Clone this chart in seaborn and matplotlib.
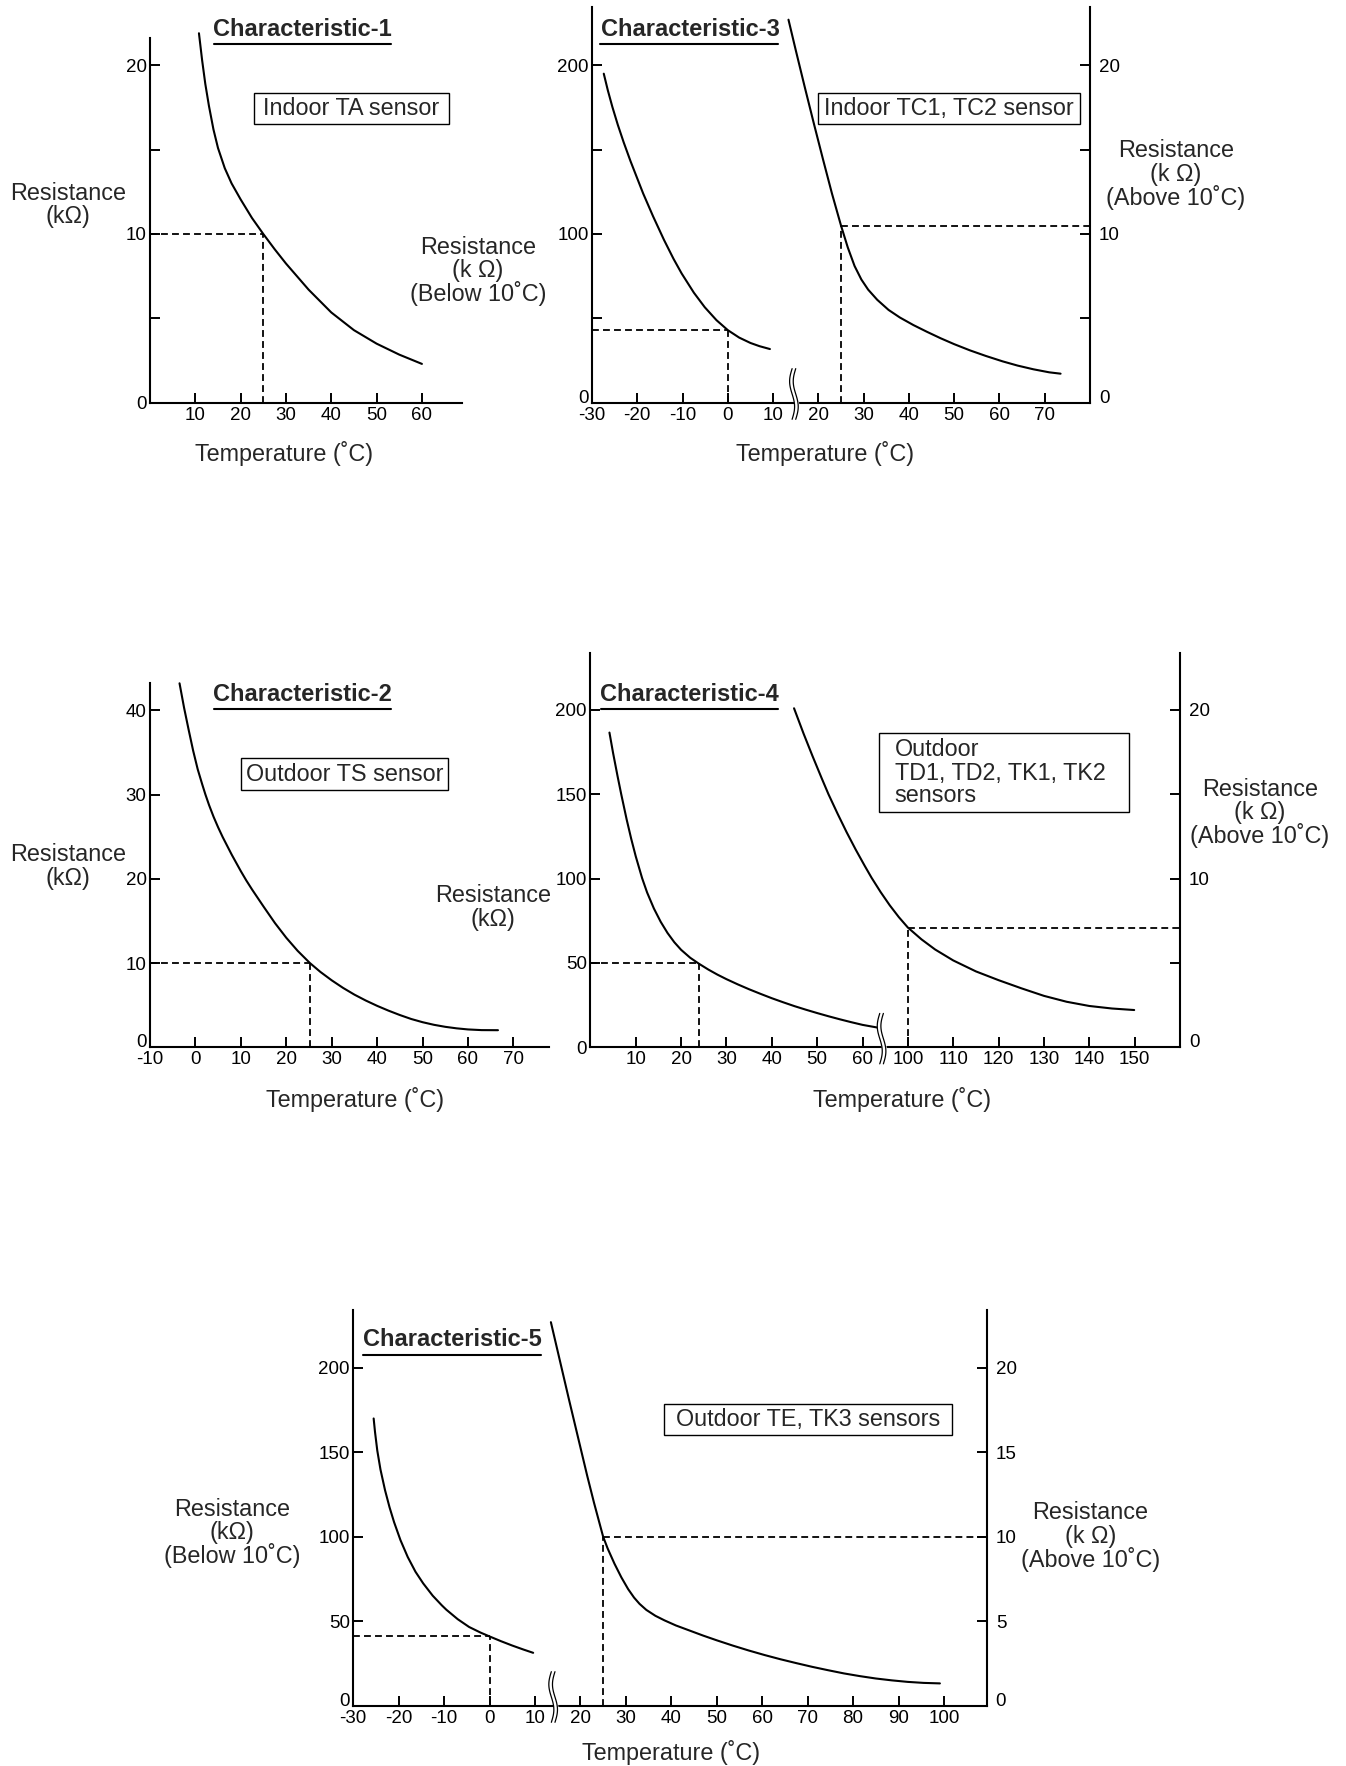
import numpy as np
import matplotlib
matplotlib.use("Agg")
import matplotlib.pyplot as plt
from matplotlib.lines import Line2D
from matplotlib.patches import Rectangle
import seaborn as sns

sns.set_style("ticks")
plt.rcParams["font.family"] = ["Liberation Sans", "DejaVu Sans"]

W, H = 1346, 1766

# ----------- DATA (degC / kOhm) -----------

# Characteristic-1 : Indoor TA sensor
c1_temp = [10.8, 11.5, 12.2, 13.0, 14.0, 15.0, 16.5, 18.0, 20.0, 22.5, 25.0, 27.5, 30.0,
           35.0, 40.0, 45.0, 50.0, 55.0, 60.0]
c1_res = [21.9, 20.3, 18.9, 17.6, 16.2, 15.1, 13.9, 13.0, 12.05, 10.95, 10.0, 9.1, 8.25,
          6.7, 5.35, 4.3, 3.5, 2.85, 2.3]
c1_ref = (25, 10)

# Characteristic-2 : Outdoor TS sensor
c2_temp = [-3.5, -2.5, -1.5, -0.5, 0.5, 1.5, 2.2, 3, 4, 5, 6, 8, 10, 11.2, 12.5, 15, 17.5,
           20, 22.5, 25.2, 27.5, 30, 32.5, 35, 37.5, 40, 42.5, 45, 47.5, 50, 52.5, 55,
           57.5, 60, 63, 66.6]
c2_res = [43.2, 40.3, 37.7, 35.2, 33.0, 31.2, 30.0, 28.75, 27.35, 26.1, 24.95, 22.85, 20.9,
          19.8, 18.7, 16.7, 14.75, 13.0, 11.45, 10.0, 8.95, 7.95, 7.05, 6.25, 5.55, 4.92,
          4.35, 3.83, 3.36, 2.98, 2.67, 2.43, 2.25, 2.12, 2.04, 2.03]
c2_ref = (25.2, 10)

# Characteristic-3 : Indoor TC1, TC2 sensor (low range -> left axis, high range -> right axis)
c3_low_temp = [-27.4, -26.5, -25.5, -24.3, -23, -21.5, -20, -18.7, -16.5, -14.1, -12, -10.2,
               -7.5, -5.1, -2.5, 0, 2.5, 5, 7, 9.3]
c3_low_res = [195, 185.1, 175.3, 164.7, 154.3, 143.2, 132.9, 124, 110.4, 96.5, 85.3, 76.6,
              65.2, 56.6, 48.9, 43.0, 38.6, 35.4, 33.5, 31.8]
c3_high_temp = [13.4, 15, 17, 19, 21, 23, 25, 26.5, 28, 29.5, 31, 33, 35.5, 38, 41, 44, 47,
                50, 53.5, 57, 60.7, 64, 67.5, 71, 73.5]
c3_high_res = [22.7, 20.9, 18.7, 16.55, 14.45, 12.4, 10.5, 9.2, 8.1, 7.3, 6.7, 6.1, 5.5,
               5.05, 4.6, 4.2, 3.82, 3.47, 3.1, 2.77, 2.45, 2.2, 1.98, 1.8, 1.72]
c3_ref_low = (0, 43)
c3_ref_high = (25, 10.5)

# Characteristic-4 : Outdoor TD1, TD2, TK1, TK2 sensors
c4_low_temp = [4.2, 5, 6, 6.8, 8, 9, 10, 11.4, 12.5, 14, 15.5, 17, 18.5, 20, 22, 23.9, 26,
               28, 30, 32.5, 35, 37.5, 40, 42.5, 45, 47.5, 50, 52.5, 55, 57.5, 60, 63.3]
c4_low_res = [186.6, 174.5, 160.6, 150, 135, 123.6, 113.2, 100.3, 91.8, 82.3, 74.4, 67.8,
              62.3, 57.8, 53.1, 49.6, 46.1, 43.1, 40.4, 37.3, 34.4, 31.7, 29.1, 26.7, 24.4,
              22.3, 20.3, 18.4, 16.6, 14.9, 13.3, 11.7]
c4_high_temp = [74.9, 77, 79, 81, 82.5, 84.5, 86.5, 88.5, 90.5, 92, 94, 96, 98, 100, 103,
                106, 110, 115, 120, 125, 130, 135, 140, 145, 149.9]
c4_high_res = [20.1, 18.6, 17.25, 15.95, 15.0, 13.85, 12.75, 11.72, 10.75, 10.05, 9.2, 8.42,
               7.72, 7.1, 6.4, 5.8, 5.15, 4.5, 3.98, 3.5, 3.05, 2.7, 2.45, 2.3, 2.21]
c4_ref_low = (23.9, 50)
c4_ref_high = (100, 7.1)
c4_shift = 30  # axis jumps from 60 to 100

# Characteristic-5 : Outdoor TE, TK3 sensors
c5_low_temp = [-25.5, -25.2, -24.7, -24.0, -23.0, -22.0, -21.0, -19.6, -18.0, -16.3, -14.6,
               -12.5, -10.5, -9.5, -7, -4.5, -2, 0, 2.5, 5, 7.5, 9.6]
c5_low_res = [170, 162, 151, 139.8, 127.6, 117.4, 108.6, 98.0, 88.0, 79.3, 72.4, 65.1, 59.4,
              56.8, 51.2, 46.6, 43.3, 41.0, 38.2, 35.6, 33.2, 31.3]
c5_high_temp = [13.5, 15.5, 17.5, 19.5, 21.5, 23, 24.2, 25, 26, 27.5, 29, 30.5, 31.8, 33,
                34.5, 36.5, 38.5, 41, 44, 47, 50, 53.5, 57, 60.5, 64, 67.5, 71, 74.5, 78,
                81.5, 85, 88.5, 92, 95.5, 99.1]
c5_high_res = [22.7, 20.4, 18.1, 15.85, 13.6, 12.0, 10.8, 10.0, 9.3, 8.4, 7.6, 6.9, 6.4,
               6.03, 5.67, 5.32, 5.05, 4.75, 4.45, 4.15, 3.87, 3.56, 3.27, 3.0, 2.75, 2.52,
               2.3, 2.1, 1.91, 1.75, 1.61, 1.5, 1.41, 1.35, 1.32]
c5_ref_low = (0, 41)
c5_ref_high = (25, 10)

# tick labels
c1_xticks = [10, 20, 30, 40, 50, 60]
c1_yticks = [0, 5, 10, 15, 20]
c1_ylabels = ["0", "", "10", "", "20"]
c2_xticks = [-10, 0, 10, 20, 30, 40, 50, 60, 70]
c2_yticks = [0, 10, 20, 30, 40]
c3_xticks = [-30, -20, -10, 0, 10, 20, 30, 40, 50, 60, 70]
c3_yticks = [0, 50, 100, 150, 200]
c3_ylabels = ["0", "", "100", "", "200"]
right_yticks = [0, 5, 10, 15, 20]
right_ylabels = ["0", "", "10", "", "20"]
c4_xticks = [10, 20, 30, 40, 50, 60, 100, 110, 120, 130, 140, 150]
c4_yticks = [0, 50, 100, 150, 200]
c5_xticks = [-30, -20, -10, 0, 10, 20, 30, 40, 50, 60, 70, 80, 90, 100]
c5_yticks = [0, 50, 100, 150, 200]
c5_ryticks = [0, 5, 10, 15, 20]

TICK_SIZE = 13.5
LABEL_SIZE = 16.8

fig = plt.figure(figsize=(W / 100, H / 100), dpi=100)


def fx(x):
    return x / W


def fy(y):
    return 1 - y / H


def new_axes(left, top, right, bottom):
    return fig.add_axes([fx(left), fy(bottom), (right - left) / W, (bottom - top) / H])


def style_axes(ax, sides, ypad=2.5):
    for name, sp in ax.spines.items():
        sp.set_visible(name in sides)
        sp.set_linewidth(1.5)
        sp.set_color("black")
    ax.patch.set_visible(False)
    ax.tick_params(direction="in", length=7.5, width=1.4, labelsize=TICK_SIZE, colors="black")
    ax.tick_params(axis="x", pad=3)
    ax.tick_params(axis="y", pad=ypad)
    ax.set_xlabel("")
    ax.set_ylabel("")


def raise_zero(ax):
    # the "0" label sits on the axis line, above the x tick labels
    ax.get_yticklabels()[0].set_verticalalignment("baseline")


def curve(ax, t, r, shift=0):
    sns.lineplot(x=np.asarray(t, dtype=float) - shift, y=r, ax=ax, color="black",
                 linewidth=1.5, clip_on=False)


DASH = dict(color="black", lw=1.3, dashes=(3.8, 2.3))


def ref_low(ax, ref, xmin):
    x, y = ref
    ax.plot([xmin, x], [y, y], **DASH)
    ax.plot([x, x], [0, y], **DASH)


def ref_high(ax, ref, xmax, shift=0):
    x, y = ref
    x = x - shift
    ax.plot([x, xmax], [y, y], **DASH)
    ax.plot([x, x], [0, y], **DASH)


def axis_break(ax, xpos):
    t = np.linspace(0, 1, 60)
    yy = -0.042 + 0.128 * t
    wig = 0.55 * np.sin(2 * np.pi * t)
    trans = ax.get_xaxis_transform()
    xl = xpos - 0.4 + wig
    xr = xpos + 0.4 + wig
    ax.fill_betweenx(yy, xl, xr, transform=trans, color="white", zorder=4, clip_on=False)
    ax.plot(xl, yy, transform=trans, color="black", lw=0.9, zorder=5, clip_on=False)
    ax.plot(xr, yy, transform=trans, color="black", lw=0.9, zorder=5, clip_on=False)


def text(x, y, s, size=LABEL_SIZE, **kw):
    fig.text(fx(x), fy(y), s, fontsize=size, ha=kw.pop("ha", "center"), va="center", **kw)


def title(x, y, s, x0, x1, yline):
    text(x, y, s, size=17, fontweight="bold")
    fig.add_artist(Line2D([fx(x0), fx(x1)], [fy(yline), fy(yline)], transform=fig.transFigure,
                          color="black", lw=1.5))


def box(left, top, right, bottom):
    fig.add_artist(Rectangle((fx(left), fy(bottom)), (right - left) / W, (bottom - top) / H,
                             transform=fig.transFigure, fc="white", ec="black", lw=1.0))


# ----------- Characteristic-1 -----------
ax = new_axes(150, 38.3, 461.8, 402.7)
curve(ax, c1_temp, c1_res)
ref_low(ax, c1_ref, 0)
ax.set_xticks(c1_xticks)
ax.set_xticklabels([str(v) for v in c1_xticks])
ax.set_yticks(c1_yticks)
ax.set_yticklabels(c1_ylabels)
ax.set_xlim(0, 68.8)
ax.set_ylim(0, 21.6)
style_axes(ax, ("left", "bottom"))
title(302, 29.3, "Characteristic-1", 214, 391, 43.5)
box(253.6, 93.3, 449, 124.3)
text(351.3, 108.8, "Indoor TA sensor")
text(67.9, 193.3, "Resistance")
text(67.9, 216.7, "(kΩ)")
text(284, 453.3, "Temperature (˚C)")
text(477.9, 247, "Resistance")
text(477.9, 270, "(k Ω)")
text(477.9, 293, "(Below 10˚C)")

# ----------- Characteristic-3 -----------
ax = new_axes(592, 6.7, 1090, 402.7)
curve(ax, c3_low_temp, c3_low_res)
ref_low(ax, c3_ref_low, -30)
axis_break(ax, 14.6)
ax.set_xticks(c3_xticks)
ax.set_xticklabels([str(v) for v in c3_xticks])
ax.set_yticks(c3_yticks)
ax.set_yticklabels(c3_ylabels)
ax.set_xlim(-30, 80)
ax.set_ylim(0, 234.7)
style_axes(ax, ("left", "bottom"))
raise_zero(ax)
ax2 = ax.twinx()
curve(ax2, c3_high_temp, c3_high_res)
ref_high(ax2, c3_ref_high, 80)
ax2.set_yticks(right_yticks)
ax2.set_yticklabels(right_ylabels)
ax2.set_ylim(0, 23.47)
ax.set_xlim(-30, 80)
style_axes(ax2, ("right",), ypad=6.5)
raise_zero(ax2)
title(690, 29.3, "Characteristic-3", 600, 778, 44)
box(817.6, 93.3, 1079.8, 124.3)
text(948.7, 108.8, "Indoor TC1, TC2 sensor")
text(1176, 150.7, "Resistance")
text(1176, 174, "(k Ω)")
text(1176, 197.3, "(Above 10˚C)")
text(825.3, 453.3, "Temperature (˚C)")

# ----------- Characteristic-2 -----------
ax = new_axes(150, 683.3, 549.3, 1047.3)
curve(ax, c2_temp, c2_res)
ref_low(ax, c2_ref, -10)
ax.set_xticks(c2_xticks)
ax.set_xticklabels([str(v) for v in c2_xticks])
ax.set_yticks(c2_yticks)
ax.set_yticklabels([str(v) for v in c2_yticks])
ax.set_xlim(-10, 77.9)
ax.set_ylim(0, 43.2)
style_axes(ax, ("left", "bottom"))
raise_zero(ax)
title(302, 694.3, "Characteristic-2", 214, 391, 709)
box(241, 758.3, 448.2, 790)
text(344.6, 774.2, "Outdoor TS sensor")
text(67.9, 855, "Resistance")
text(67.9, 879, "(kΩ)")
text(492.9, 896, "Resistance")
text(492.9, 919.3, "(kΩ)")
text(355.4, 1099.3, "Temperature (˚C)")

# ----------- Characteristic-4 -----------
ax = new_axes(590.4, 653.3, 1180, 1047.3)
curve(ax, c4_low_temp, c4_low_res)
ref_low(ax, c4_ref_low, 0)
axis_break(ax, 64.2)
c4_pos = [v if v <= 60 else v - c4_shift for v in c4_xticks]
ax.set_xticks(c4_pos)
ax.set_xticklabels([str(v) for v in c4_xticks])
ax.set_yticks(c4_yticks)
ax.set_yticklabels([str(v) for v in c4_yticks])
ax.set_xlim(0, 130)
ax.set_ylim(0, 233.6)
style_axes(ax, ("left", "bottom"))
ax2 = ax.twinx()
curve(ax2, c4_high_temp, c4_high_res, shift=c4_shift)
ref_high(ax2, c4_ref_high, 130, shift=c4_shift)
ax2.set_yticks(right_yticks)
ax2.set_yticklabels(right_ylabels)
ax2.set_ylim(0, 23.36)
ax.set_xlim(0, 130)
style_axes(ax2, ("right",), ypad=6.5)
raise_zero(ax2)
title(689, 694.3, "Characteristic-4", 600.7, 778, 709)
box(879.3, 733.3, 1128.7, 811.7)
text(894.8, 750, "Outdoor", ha="left")
text(894.8, 773.3, "TD1, TD2, TK1, TK2", ha="left")
text(894.8, 795.7, "sensors", ha="left")
text(1259.8, 789, "Resistance")
text(1259.8, 812.3, "(k Ω)")
text(1259.8, 835.7, "(Above 10˚C)")
text(902.5, 1099.3, "Temperature (˚C)")

# ----------- Characteristic-5 -----------
ax = new_axes(353.2, 1310, 986.7, 1705.7)
curve(ax, c5_low_temp, c5_low_res)
ref_low(ax, c5_ref_low, -30)
axis_break(ax, 14.0)
ax.set_xticks(c5_xticks)
ax.set_xticklabels([str(v) for v in c5_xticks])
ax.set_yticks(c5_yticks)
ax.set_yticklabels([str(v) for v in c5_yticks])
ax.set_xlim(-30, 109.4)
ax.set_ylim(0, 234.2)
style_axes(ax, ("left", "bottom"))
raise_zero(ax)
ax2 = ax.twinx()
curve(ax2, c5_high_temp, c5_high_res)
ref_high(ax2, c5_ref_high, 109.4)
ax2.set_yticks(c5_ryticks)
ax2.set_yticklabels([str(v) for v in c5_ryticks])
ax2.set_ylim(0, 23.42)
ax.set_xlim(-30, 109.4)
style_axes(ax2, ("right",), ypad=6.5)
raise_zero(ax2)
title(451.9, 1339.3, "Characteristic-5", 363, 541, 1355)
box(663.5, 1404, 952.2, 1435.3)
text(807.8, 1419.6, "Outdoor TE, TK3 sensors")
text(231.8, 1510, "Resistance")
text(231.8, 1533, "(kΩ)")
text(231.8, 1556, "(Below 10˚C)")
text(1090.6, 1512.7, "Resistance")
text(1090.6, 1536, "(k Ω)")
text(1090.6, 1559.3, "(Above 10˚C)")
text(671.3, 1752.5, "Temperature (˚C)")

fig.savefig("out.png", dpi=100, facecolor="white")
